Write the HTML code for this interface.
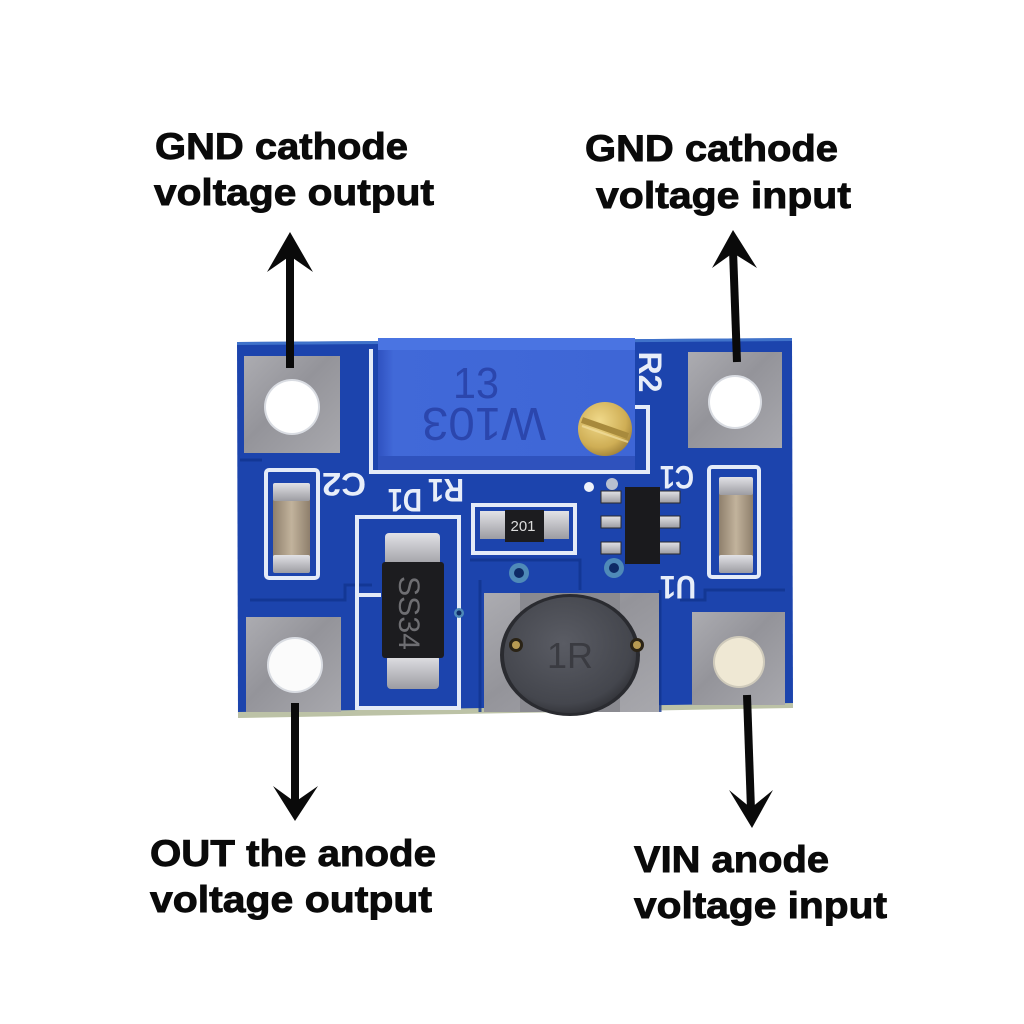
<!DOCTYPE html>
<html>
<head>
<meta charset="utf-8">
<style>
html,body{margin:0;padding:0;background:#fff;width:1024px;height:1024px;overflow:hidden}
svg{display:block}
.lbl{font-family:"Liberation Sans",Arial,sans-serif;font-weight:bold;font-size:37px;fill:#0a0a0a;stroke:#0a0a0a;stroke-width:0.9px}
.silk{font-family:"Liberation Sans",Arial,sans-serif;font-weight:bold;fill:#e8eef9}
</style>
</head>
<body>
<svg width="1024" height="1024" viewBox="0 0 1024 1024" xmlns="http://www.w3.org/2000/svg">
<defs>
  <linearGradient id="pad" x1="0" y1="0" x2="1" y2="1">
    <stop offset="0" stop-color="#acacb1"/>
    <stop offset="0.45" stop-color="#94949a"/>
    <stop offset="1" stop-color="#a8a8ad"/>
  </linearGradient>
  <linearGradient id="metal" x1="0" y1="0" x2="0" y2="1">
    <stop offset="0" stop-color="#e2e2e6"/>
    <stop offset="1" stop-color="#9c9ca2"/>
  </linearGradient>
  <radialGradient id="ind" cx="0.45" cy="0.4" r="0.65">
    <stop offset="0" stop-color="#5a5c64"/>
    <stop offset="0.8" stop-color="#44464d"/>
    <stop offset="1" stop-color="#2e2f34"/>
  </radialGradient>
  <radialGradient id="screw" cx="0.4" cy="0.35" r="0.7">
    <stop offset="0" stop-color="#f0d98a"/>
    <stop offset="0.7" stop-color="#cfae55"/>
    <stop offset="1" stop-color="#9e8038"/>
  </radialGradient>
  <linearGradient id="pot" x1="0" y1="0" x2="1" y2="0">
    <stop offset="0" stop-color="#2f52c0"/>
    <stop offset="0.06" stop-color="#4169d8"/>
    <stop offset="1" stop-color="#3e66d6"/>
  </linearGradient>
  <linearGradient id="cap" x1="0" y1="0" x2="1" y2="0">
    <stop offset="0" stop-color="#8e7f6c"/>
    <stop offset="0.5" stop-color="#c2b39c"/>
    <stop offset="1" stop-color="#8e7f6c"/>
  </linearGradient>
</defs>

<rect width="1024" height="1024" fill="#fff"/>

<!-- ===== Labels ===== -->
<text class="lbl" x="155" y="159" textLength="253" lengthAdjust="spacingAndGlyphs">GND cathode</text>
<text class="lbl" x="154" y="205" textLength="280" lengthAdjust="spacingAndGlyphs">voltage output</text>

<text class="lbl" x="585" y="161" textLength="253" lengthAdjust="spacingAndGlyphs">GND cathode</text>
<text class="lbl" x="596" y="208" textLength="255" lengthAdjust="spacingAndGlyphs">voltage input</text>

<text class="lbl" x="150" y="866" textLength="286" lengthAdjust="spacingAndGlyphs">OUT the anode</text>
<text class="lbl" x="150" y="912" textLength="282" lengthAdjust="spacingAndGlyphs">voltage output</text>

<text class="lbl" x="634" y="872" textLength="195" lengthAdjust="spacingAndGlyphs">VIN anode</text>
<text class="lbl" x="634" y="918" textLength="253" lengthAdjust="spacingAndGlyphs">voltage input</text>

<!-- ===== Board ===== -->
<polygon points="237,342 792,338 793,707 238,716" fill="#1c44ad"/>
<polygon points="237,342 792,338 792,341 237,345" fill="#4f86d6" opacity="0.7"/>
<polygon points="238,712 793,703 793,708 238,718" fill="#bcc2a6"/>

<!-- darker copper gap lines -->
<g stroke="#12348f" stroke-width="3" fill="none" opacity="0.8">
  <path d="M250,600 H345 V585 H372"/>
  <path d="M470,560 H580 V590"/>
  <path d="M680,600 H705 V590 H785"/>
  <path d="M240,460 H262"/>
  <path d="M660,590 V712"/>
  <path d="M480,580 V712"/>
</g>

<!-- Pads -->
<rect x="244" y="356" width="96" height="97" fill="url(#pad)"/>
<circle cx="292" cy="407" r="28" fill="#d9dce2"/>
<circle cx="292" cy="407" r="26" fill="#ffffff"/>

<rect x="688" y="352" width="94" height="96" fill="url(#pad)"/>
<circle cx="735" cy="402" r="27" fill="#d9dce2"/>
<circle cx="735" cy="402" r="25" fill="#ffffff"/>

<rect x="246" y="617" width="95" height="95" fill="url(#pad)"/>
<circle cx="295" cy="665" r="28" fill="#d9dce2"/>
<circle cx="295" cy="665" r="26" fill="#fbfbfb"/>

<rect x="692" y="612" width="93" height="93" fill="url(#pad)"/>
<circle cx="739" cy="662" r="26" fill="#cfcabb"/>
<circle cx="739" cy="662" r="24" fill="#efe8d4"/>

<!-- Silkscreen outlines -->
<g stroke="#e4ebf8" stroke-width="4" fill="none">
  <path d="M371,349 V472 H648 V407 H634"/>
  <rect x="266" y="470" width="52" height="108" rx="3"/>
  <rect x="357" y="517" width="102" height="191"/>
  <path d="M358,595 H381"/>
  <rect x="473" y="505" width="102" height="48"/>
  <rect x="709" y="467" width="50" height="110" rx="3"/>
</g>

<!-- Potentiometer -->
<rect x="378" y="338" width="257" height="132" fill="url(#pot)"/>
<rect x="378" y="338" width="257" height="12" fill="#4a74e2"/>
<rect x="378" y="456" width="257" height="14" fill="#2f52bd"/>
<text x="476" y="398" font-family="Liberation Sans,Arial,sans-serif" font-size="44" fill="#2b46ad" text-anchor="middle" textLength="46" lengthAdjust="spacingAndGlyphs">13</text>
<text transform="translate(484,424) rotate(180)" x="0" y="16" font-family="Liberation Sans,Arial,sans-serif" font-size="46" fill="#2b46ad" text-anchor="middle" textLength="124" lengthAdjust="spacingAndGlyphs">W103</text>
<circle cx="605" cy="429" r="27" fill="url(#screw)"/>
<path d="M582,420 L628,436" stroke="#a88a3c" stroke-width="6"/>
<path d="M582,426 L628,442" stroke="#f3e0a0" stroke-width="2" opacity="0.7"/>

<!-- Silk labels -->
<text class="silk" transform="translate(344,484) rotate(180)" x="0" y="11" font-size="32" text-anchor="middle" textLength="44" lengthAdjust="spacingAndGlyphs">C2</text>
<text class="silk" transform="translate(405,500) rotate(180)" x="0" y="11" font-size="32" text-anchor="middle" textLength="34" lengthAdjust="spacingAndGlyphs">D1</text>
<text class="silk" transform="translate(446,490) rotate(180)" x="0" y="11" font-size="32" text-anchor="middle" textLength="36" lengthAdjust="spacingAndGlyphs">R1</text>
<text class="silk" transform="translate(650,372) rotate(90)" x="0" y="11" font-size="32" text-anchor="middle" textLength="41" lengthAdjust="spacingAndGlyphs">R2</text>
<text class="silk" transform="translate(677,477) rotate(180)" x="0" y="11" font-size="32" text-anchor="middle" textLength="34" lengthAdjust="spacingAndGlyphs">C1</text>
<text class="silk" transform="translate(678,587) rotate(180)" x="0" y="11" font-size="32" text-anchor="middle" textLength="36" lengthAdjust="spacingAndGlyphs">U1</text>

<!-- C2 capacitor -->
<rect x="273" y="483" width="37" height="90" rx="3" fill="url(#cap)"/>
<rect x="273" y="483" width="37" height="18" rx="2" fill="url(#metal)"/>
<rect x="273" y="555" width="37" height="18" rx="2" fill="url(#metal)"/>

<!-- C1 capacitor -->
<rect x="719" y="477" width="34" height="96" rx="3" fill="url(#cap)"/>
<rect x="719" y="477" width="34" height="18" rx="2" fill="url(#metal)"/>
<rect x="719" y="555" width="34" height="18" rx="2" fill="url(#metal)"/>

<!-- Diode D1 -->
<rect x="385" y="533" width="55" height="34" rx="4" fill="url(#metal)"/>
<rect x="387" y="655" width="52" height="34" rx="4" fill="url(#metal)"/>
<rect x="382" y="562" width="62" height="96" rx="3" fill="#1c1c1f"/>
<text transform="translate(409,613) rotate(90)" x="0" y="10" font-family="Liberation Sans,Arial,sans-serif" font-size="30" fill="#6e6e72" text-anchor="middle" textLength="74" lengthAdjust="spacingAndGlyphs">SS34</text>

<!-- R1 resistor -->
<rect x="480" y="511" width="27" height="28" fill="url(#metal)"/>
<rect x="541" y="511" width="28" height="28" fill="url(#metal)"/>
<rect x="505" y="510" width="39" height="32" fill="#1c1c1f"/>
<text x="523" y="531" font-family="Liberation Sans,Arial,sans-serif" font-size="15" fill="#dcdcdc" text-anchor="middle">201</text>

<!-- U1 chip -->
<g fill="url(#metal)" stroke="#2a2a2e" stroke-width="1">
  <rect x="601" y="491" width="20" height="12"/>
  <rect x="601" y="516" width="20" height="12"/>
  <rect x="601" y="542" width="20" height="12"/>
  <rect x="659" y="491" width="21" height="12"/>
  <rect x="659" y="516" width="21" height="12"/>
  <rect x="659" y="542" width="21" height="12"/>
</g>
<rect x="625" y="487" width="35" height="77" fill="#1a1a1d"/>
<circle cx="589" cy="487" r="5" fill="#eef2fa"/>
<circle cx="612" cy="484" r="6" fill="#b8c0d0"/>

<!-- Vias -->
<circle cx="519" cy="573" r="10" fill="#4f8ab8"/>
<circle cx="519" cy="573" r="5" fill="#0e2a66"/>
<circle cx="614" cy="568" r="10" fill="#4f8ab8"/>
<circle cx="614" cy="568" r="5" fill="#0e2a66"/>
<circle cx="459" cy="613" r="5" fill="#4f8ab8"/>
<circle cx="459" cy="613" r="2.5" fill="#0e2a66"/>

<!-- Inductor -->
<rect x="484" y="593" width="175" height="119" fill="url(#pad)"/>
<rect x="520" y="593" width="100" height="119" fill="#8a8a90"/>
<ellipse cx="570" cy="655" rx="70" ry="61" fill="#2a2b30"/>
<ellipse cx="570" cy="655" rx="66" ry="58" fill="url(#ind)"/>
<circle cx="516" cy="645" r="7" fill="#2a2316"/>
<circle cx="516" cy="645" r="4" fill="#b79a52"/>
<circle cx="637" cy="645" r="7" fill="#2a2316"/>
<circle cx="637" cy="645" r="4" fill="#b79a52"/>
<text x="570" y="668" font-family="Liberation Sans,Arial,sans-serif" font-size="36" fill="#3a3b41" text-anchor="middle">1R</text>

<!-- ===== Arrows ===== -->
<g fill="#0a0a0a">
  <rect x="286" y="252" width="8" height="116"/>
  <polygon points="290,232 313,272 290,256 267,272"/>
  <line x1="733" y1="250" x2="737" y2="362" stroke="#0a0a0a" stroke-width="8"/>
  <polygon points="733,230 757,268 733,253 712,268"/>
  <rect x="291" y="703" width="8" height="100"/>
  <polygon points="295,821 318,786 295,802 273,786"/>
  <line x1="747" y1="695" x2="751" y2="810" stroke="#0a0a0a" stroke-width="8"/>
  <polygon points="752,828 773,790 751,808 729,790"/>
</g>
</svg>
</body>
</html>
